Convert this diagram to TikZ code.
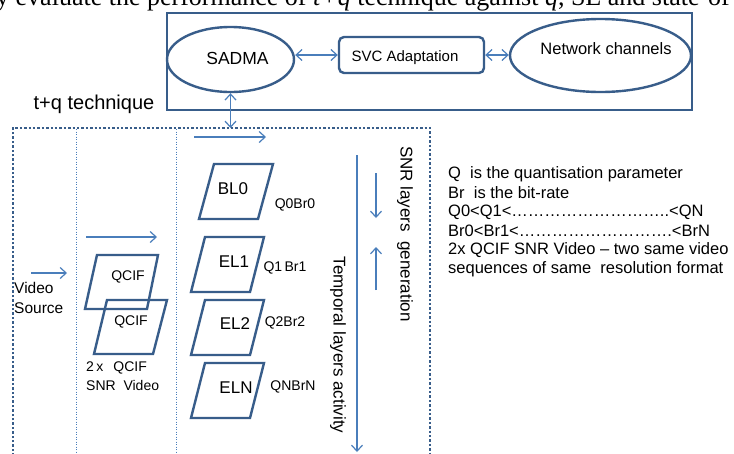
\documentclass[tikz,border=0pt]{standalone}
\usepackage{fontspec}
\setmainfont{Liberation Sans}
\newfontfamily\pageserif{Liberation Serif}
\usetikzlibrary{shapes.geometric,arrows.meta}
\definecolor{darkblue}{RGB}{56,93,138}
\definecolor{lightblue}{RGB}{74,126,187}
\newcommand{\fsz}[1]{\fontsize{#1}{#1}\selectfont}
\tikzset{
  outl/.style={draw=darkblue, line width=2.4pt},
  arr/.style={draw=lightblue, line width=1.2pt, -{Straight Barb[length=6pt,width=11pt,line width=1.2pt]}},
  darr/.style={draw=lightblue, line width=1.2pt, {Straight Barb[length=6pt,width=11pt,line width=1.2pt]}-{Straight Barb[length=6pt,width=11pt,line width=1.2pt]}},
  lbl/.style={inner sep=0pt, text=black},
  thindot/.style={draw=lightblue, line width=1pt, dash pattern=on 1pt off 1.5pt},
  thickdot/.style={draw=darkblue, line width=2.6pt, dash pattern=on 2.4pt off 2pt},
}
\begin{document}
\begin{tikzpicture}[x=1pt,y=-1pt]
\useasboundingbox (0,0) rectangle (734,453);
\clip (0,0) rectangle (734,453);
\fill[white] (0,0) rectangle (734,453);
% clipped page text
\node[lbl, anchor=base west] (pagetext) at (-4,5.5) {\pageserif\fsz{26}y evaluate the performance of \textit{t+q} technique against \textit{q}, SE and state-of-the-art};
% top box
\node[outl, rectangle, minimum width=525pt, minimum height=97pt, anchor=north west, inner sep=0pt, fill=white] (topbox) at (166,12) {};
\node[outl, ellipse, minimum width=127pt, minimum height=65pt, inner sep=0pt, fill=white] (sadma) at (230.5,59.5) {};
\node[lbl] (sadmat) at (237.5,58) {\fsz{17.5}SADMA};
\node[outl, rectangle, rounded corners=5pt, minimum width=145pt, minimum height=36pt, inner sep=0pt] (svc) at (411.5,55) {};
\node[lbl] (svct) at (405,58) {\fsz{15}SVC Adaptation};
\node[outl, ellipse, minimum width=181pt, minimum height=73pt, inner sep=0pt] (net) at (600.5,55.5) {};
\node[lbl] (nett) at (606,49) {\fsz{16.5}Network channels};
\draw[darr] (svc.west -| sadma.east) -- (svc.west);
\draw[darr] (svc.east) -- (svc.east -| net.west);
\coordinate (otop) at (230.5,128);
\draw[darr] (sadma.south) -- (otop);
\node[lbl] (tq) at (94,104) {\fsz{20}t+q technique};
% dotted outer frame
\draw[thickdot] (13,460) -- (13,128) -- (430,128) -- (430,460);
\draw[thindot] (76,129) -- (76,460);
\draw[thindot] (176,129) -- (176,460);
% video source
\coordinate (va) at (31,273); \coordinate (vb) at (67,273);
\draw[arr] (va) -- (vb);
\node[lbl, anchor=west] (vid) at (14,288) {\fsz{15.5}Video};
\node[lbl, anchor=west] (src) at (14,308) {\fsz{15.5}Source};
% QCIF
\coordinate (qa) at (86,237); \coordinate (qb) at (157,237);
\draw[arr] (qa) -- (qb);
\draw[outl, line join=miter] (97,255) -- (158,255) -- (147,309) -- (85,309) -- cycle;
\draw[outl, line join=miter] (107,300) -- (167,300) -- (153,354) -- (94,354) -- cycle;
\node[lbl] (q1) at (128,277) {\fsz{14}QCIF};
\node[lbl] (q2) at (131,322) {\fsz{14}QCIF};
\node[lbl, anchor=west] (twox) at (86,368) {\fsz{14}2\,x\,\ \ QCIF};
\node[lbl, anchor=west] (snrv) at (86,385) {\fsz{14}SNR\ \ Video};
% layers
\coordinate (la) at (194,137); \coordinate (lb) at (266,137);
\draw[arr] (la) -- (lb);
\draw[outl, line join=miter] (214,164) -- (273,164) -- (258,219) -- (199,219) -- cycle;
\draw[outl, line join=miter] (205,237) -- (264,237) -- (250,292) -- (191,292) -- cycle;
\draw[outl, line join=miter] (205,300) -- (264,300) -- (250,355) -- (191,355) -- cycle;
\draw[outl, line join=miter] (205,363) -- (264,363) -- (250,418) -- (191,418) -- cycle;
\node[lbl] (bl0) at (233,189) {\fsz{17}BL0};
\node[lbl] (el1) at (234,262) {\fsz{17}EL1};
\node[lbl] (el2) at (235,324) {\fsz{17}EL2};
\node[lbl] (eln) at (236,388) {\fsz{17}ELN};
\node[lbl] (qb0) at (295,205) {\fsz{14}Q0Br0};
\node[lbl] (qb1) at (285,268) {\fsz{14}Q1\,Br1};
\node[lbl] (qb2) at (285,323) {\fsz{14}Q2Br2};
\node[lbl] (qbn) at (293,387) {\fsz{14}QNBrN};
% temporal and SNR arrows
\coordinate (ta) at (357,155); \coordinate (tb) at (357,452);
\draw[arr] (ta) -- (tb);
\node[lbl, rotate=-90] (temp) at (338,345) {\fsz{17}Temporal layers\ activity};
\coordinate (sa) at (376,173); \coordinate (sb) at (376,218);
\draw[arr] (sa) -- (sb);
\coordinate (sc) at (376,290); \coordinate (sd) at (376,247);
\draw[arr] (sc) -- (sd);
\node[lbl, rotate=-90] (snr) at (405,234) {\fsz{17}SNR layers\ \ generation};
% legend text
\node[lbl, anchor=west] (t1) at (448,174) {\fsz{16.5}Q\ \ is the quantisation parameter};
\node[lbl, anchor=west] (t2) at (448,193) {\fsz{16.5}Br\ \ is the bit-rate};
\node[lbl, anchor=west] (t3) at (448,212) {\fsz{16.5}Q0<Q1<………………………..<QN};
\node[lbl, anchor=west] (t4) at (448,231) {\fsz{16.5}Br0<Br1<……………………….<BrN};
\node[lbl, anchor=west] (t5) at (448,250) {\fsz{16.5}2x QCIF SNR Video – two same video};
\node[lbl, anchor=west] (t6) at (448,269) {\fsz{16.5}sequences of same\ \ resolution format};
\end{tikzpicture}
\end{document}
